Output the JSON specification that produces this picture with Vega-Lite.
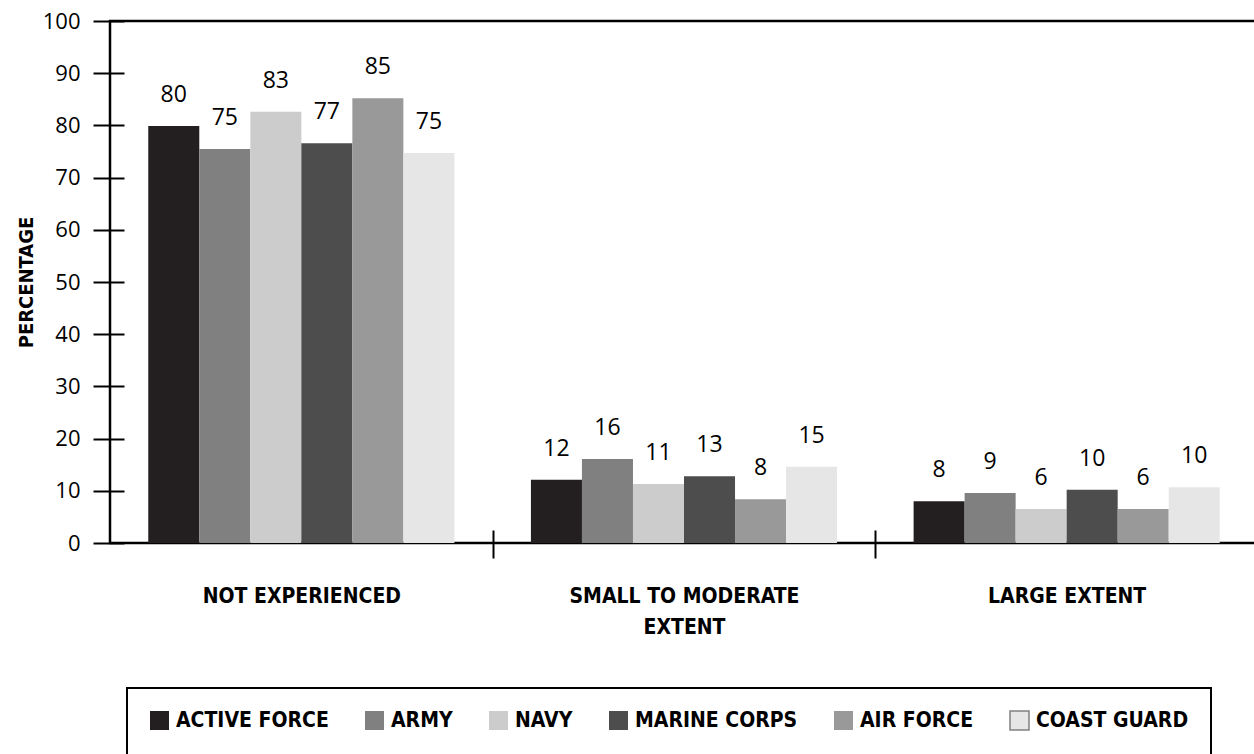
{
  "$schema": "https://vega.github.io/schema/vega-lite/v6.json",
  "width": 1148,
  "height": 522,
  "autosize": {"type": "none"},
  "padding": {"left": 110, "top": 21, "right": 0, "bottom": 211},
  "background": "white",
  "config": {
    "view": {"stroke": "black", "strokeWidth": 2.5},
    "axis": {"grid": false}
  },
  "data": {
    "values": [
      {"category": "NOT EXPERIENCED", "service": "ACTIVE FORCE", "value": 79.9, "label": "80"},
      {"category": "NOT EXPERIENCED", "service": "ARMY", "value": 75.5, "label": "75"},
      {"category": "NOT EXPERIENCED", "service": "NAVY", "value": 82.6, "label": "83"},
      {"category": "NOT EXPERIENCED", "service": "MARINE CORPS", "value": 76.6, "label": "77"},
      {"category": "NOT EXPERIENCED", "service": "AIR FORCE", "value": 85.2, "label": "85"},
      {"category": "NOT EXPERIENCED", "service": "COAST GUARD", "value": 74.7, "label": "75"},
      {"category": "SMALL TO MODERATE EXTENT", "service": "ACTIVE FORCE", "value": 12.1, "label": "12"},
      {"category": "SMALL TO MODERATE EXTENT", "service": "ARMY", "value": 16.1, "label": "16"},
      {"category": "SMALL TO MODERATE EXTENT", "service": "NAVY", "value": 11.3, "label": "11"},
      {"category": "SMALL TO MODERATE EXTENT", "service": "MARINE CORPS", "value": 12.8, "label": "13"},
      {"category": "SMALL TO MODERATE EXTENT", "service": "AIR FORCE", "value": 8.4, "label": "8"},
      {"category": "SMALL TO MODERATE EXTENT", "service": "COAST GUARD", "value": 14.6, "label": "15"},
      {"category": "LARGE EXTENT", "service": "ACTIVE FORCE", "value": 8.0, "label": "8"},
      {"category": "LARGE EXTENT", "service": "ARMY", "value": 9.6, "label": "9"},
      {"category": "LARGE EXTENT", "service": "NAVY", "value": 6.5, "label": "6"},
      {"category": "LARGE EXTENT", "service": "MARINE CORPS", "value": 10.2, "label": "10"},
      {"category": "LARGE EXTENT", "service": "AIR FORCE", "value": 6.5, "label": "6"},
      {"category": "LARGE EXTENT", "service": "COAST GUARD", "value": 10.7, "label": "10"}
    ]
  },
  "encoding": {
    "x": {
      "field": "category",
      "type": "nominal",
      "sort": ["NOT EXPERIENCED", "SMALL TO MODERATE EXTENT", "LARGE EXTENT"],
      "scale": {"paddingInner": 0.2, "paddingOuter": 0.1},
      "axis": {
        "title": null,
        "labelAngle": 0,
        "domain": false,
        "offset": -13,
        "tickSize": 28,
        "tickWidth": 2,
        "tickColor": "black",
        "tickOffset": 191.33,
        "labelOffset": -191.33,
        "labelPadding": 27,
        "labelBaseline": "top",
        "labelFont": "DejaVu Sans Condensed, Roboto, sans-serif",
        "labelFontWeight": "bold",
        "labelFontSize": 21,
        "labelColor": "black",
        "labelLineHeight": 31,
        "labelLimit": 400,
        "labelExpr": "datum.label == 'SMALL TO MODERATE EXTENT' ? ['SMALL TO MODERATE', 'EXTENT'] : datum.label"
      }
    },
    "xOffset": {
      "field": "service",
      "type": "nominal",
      "sort": ["ACTIVE FORCE", "ARMY", "NAVY", "MARINE CORPS", "AIR FORCE", "COAST GUARD"],
      "scale": {"paddingInner": 0, "paddingOuter": 0}
    },
    "y": {
      "field": "value",
      "type": "quantitative",
      "scale": {"domain": [0, 100], "nice": false},
      "axis": {
        "title": "PERCENTAGE",
        "titleFont": "DejaVu Sans Condensed, Roboto, sans-serif",
        "titleFontWeight": "bold",
        "titleFontSize": 20,
        "titleColor": "black",
        "titlePadding": 6,
        "values": [0, 10, 20, 30, 40, 50, 60, 70, 80, 90, 100],
        "domain": false,
        "offset": -14,
        "tickSize": 31,
        "tickWidth": 2,
        "tickColor": "black",
        "labelPadding": 13,
        "labelFont": "Open Sans",
        "labelFontSize": 22,
        "labelColor": "black"
      }
    }
  },
  "layer": [
    {
      "mark": {"type": "bar"},
      "encoding": {
        "color": {
          "field": "service",
          "type": "nominal",
          "sort": ["ACTIVE FORCE", "ARMY", "NAVY", "MARINE CORPS", "AIR FORCE", "COAST GUARD"],
          "scale": {
            "domain": ["ACTIVE FORCE", "ARMY", "NAVY", "MARINE CORPS", "AIR FORCE", "COAST GUARD"],
            "range": ["#231f20", "#808080", "#cccccc", "#4d4d4d", "#999999", "#e6e6e6"]
          },
          "legend": {
            "title": null,
            "orient": "none",
            "direction": "horizontal",
            "legendX": 17,
            "legendY": 667,
            "padding": 22,
            "strokeColor": "black",
            "fillColor": "white",
            "symbolType": "square",
            "symbolSize": 361,
            "symbolStrokeWidth": 0,
            "symbolOpacity": 1,
            "labelOffset": 6,
            "columnPadding": 33,
            "labelFont": "DejaVu Sans Condensed, Roboto, sans-serif",
            "labelFontWeight": "bold",
            "labelFontSize": 21,
            "labelColor": "black",
            "labelLimit": 300,
            "encode": {
              "legend": {
                "update": {"strokeWidth": {"value": 2}}
              },
              "symbols": {
                "update": {
                  "stroke": {"signal": "datum.value === 'COAST GUARD' ? '#808080' : 'transparent'"},
                  "strokeWidth": {"value": 1.5}
                }
              }
            }
          }
        }
      }
    },
    {
      "mark": {"type": "text", "baseline": "middle", "dy": -31, "font": "Open Sans", "fontSize": 23, "color": "black"},
      "encoding": {
        "text": {"field": "label", "type": "nominal"}
      }
    }
  ]
}
